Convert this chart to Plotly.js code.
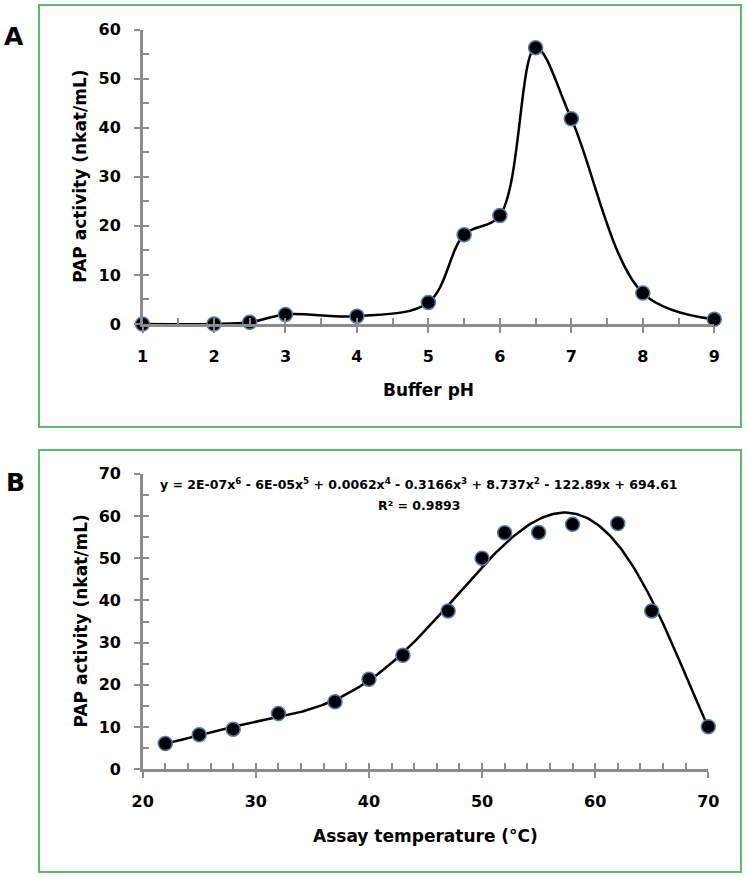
<!DOCTYPE html>
<html><head><meta charset="utf-8">
<script src="https://cdn.plot.ly/plotly-3.0.1.min.js"></script>
<style>html,body{margin:0;padding:0;background:#fff}</style>
</head><body><div id="chart" style="width:747px;height:877px"></div>
<script>
// ---- Data: panel A (pH profile) ----
const phValues = [1, 2, 2.5, 3, 4, 5, 5.5, 6, 6.5, 7, 8, 9];
const phActivity = [0, 0, 0.35, 1.95, 1.6, 4.4, 18.2, 22.1, 56.3, 41.8, 6.3, 0.95];
const xTicksA = [1, 2, 3, 4, 5, 6, 7, 8, 9];
const yTicksA = [0, 10, 20, 30, 40, 50, 60];

// ---- Data: panel B (temperature profile) ----
const tempValues = [22, 25, 28, 32, 37, 40, 43, 47, 50, 52, 55, 58, 62, 65, 70];
const tempActivity = [6.1, 8.2, 9.5, 13.2, 16.0, 21.3, 27.0, 37.5, 50.0, 56.0, 56.1, 58.0, 58.2, 37.5, 10.1];
const xTicksB = [20, 30, 40, 50, 60, 70];
const yTicksB = [0, 10, 20, 30, 40, 50, 60, 70];
const trendOrder = 6;

// ---- Texts ----
const panelLabels = ['A', 'B'];
const xTitleA = 'Buffer pH';
const xTitleB = 'Assay temperature (°C)';
const yTitle = 'PAP activity (nkat/mL)';
const equationText = 'y = 2E-07x<sup>6</sup> - 6E-05x<sup>5</sup> + 0.0062x<sup>4</sup> - 0.3166x<sup>3</sup> + 8.737x<sup>2</sup> - 122.89x + 694.61';
const r2Text = 'R² = 0.9893';

// ---- Least-squares polynomial trendline (computed from the data) ----
function polyfit(xs, ys, n) {
  const lo = Math.min(...xs), hi = Math.max(...xs);
  const mx = (lo + hi) / 2, sx = (hi - lo) / 2;
  const m = n + 1;
  const A = Array.from({length: m}, () => new Array(m + 1).fill(0));
  xs.forEach((x, k) => {
    const t = (x - mx) / sx;
    const p = [];
    for (let j = 0; j < m; j++) p.push(Math.pow(t, j));
    for (let i = 0; i < m; i++) {
      for (let j = 0; j < m; j++) A[i][j] += p[i] * p[j];
      A[i][m] += p[i] * ys[k];
    }
  });
  for (let c = 0; c < m; c++) {
    let piv = c;
    for (let r = c + 1; r < m; r++) if (Math.abs(A[r][c]) > Math.abs(A[piv][c])) piv = r;
    [A[c], A[piv]] = [A[piv], A[c]];
    for (let r = 0; r < m; r++) {
      if (r === c) continue;
      const f = A[r][c] / A[c][c];
      for (let j = c; j <= m; j++) A[r][j] -= f * A[c][j];
    }
  }
  const coef = A.map((row, i) => row[m] / row[i]);
  return x => { const t = (x - mx) / sx; let s = 0; for (let j = m - 1; j >= 0; j--) s = s * t + coef[j]; return s; };
}
const fitFn = polyfit(tempValues, tempActivity, trendOrder);
const tLo = Math.min(...tempValues), tHi = Math.max(...tempValues);
const trendX = [], trendY = [];
for (let i = 0; i <= 240; i++) { const x = tLo + (tHi - tLo) * i / 240; trendX.push(x); trendY.push(fitFn(x)); }

// ---- Styling ----
const FONT = 'DejaVu Sans, Liberation Sans, Arial, sans-serif';
const AX = '#8c8c8c';
const markerStyle = {size: 14, color: '#000000', line: {color: '#4f7db0', width: 1.5}};
const W = 747, H = 877;
const px = v => v / W, py = v => 1 - v / H;

const tickFont = {family: FONT, size: 16, color: '#000', weight: 'bold'};
function mainAxis(domain, range, tickvals, anchor) {
  return {domain, range, anchor, tickmode: 'array', tickvals, ticktext: tickvals.map(String),
    ticks: 'outside', ticklen: 6, tickwidth: 2, tickcolor: AX, showline: true, linecolor: AX, linewidth: 2.5,
    showgrid: false, zeroline: false, tickfont: tickFont, ticklabelstandoff: 10, fixedrange: true};
}
function overAxis(over, anchor, range, dtick, minorDtick) {
  return {overlaying: over, anchor, range, tickmode: 'linear', tick0: range[0], dtick,
    ticks: 'inside', ticklen: 6, tickwidth: 2, tickcolor: AX,
    minor: {ticks: 'inside', dtick: minorDtick, tick0: range[0], ticklen: 6, tickwidth: 2, tickcolor: AX},
    showticklabels: false, showline: false, showgrid: false, zeroline: false, fixedrange: true};
}

const domXA = [px(142.5), px(714.3)], domYA = [py(324), py(29.5)];
const domXB = [px(142.7), px(708.3)], domYB = [py(769.3), py(473.7)];
const rangeXA = [xTicksA[0], xTicksA[xTicksA.length - 1]], rangeYA = [yTicksA[0], yTicksA[yTicksA.length - 1]];
const rangeXB = [xTicksB[0], xTicksB[xTicksB.length - 1]], rangeYB = [yTicksB[0], yTicksB[yTicksB.length - 1]];

const traces = [
  {x: [], y: [], xaxis: 'x3', yaxis: 'y3', mode: 'markers', hoverinfo: 'skip', showlegend: false},
  {x: [], y: [], xaxis: 'x4', yaxis: 'y4', mode: 'markers', hoverinfo: 'skip', showlegend: false},
  {x: phValues, y: phActivity, xaxis: 'x', yaxis: 'y', mode: 'lines+markers', cliponaxis: false,
   line: {shape: 'spline', smoothing: 1, color: '#000', width: 2.5}, marker: markerStyle, showlegend: false},
  {x: trendX, y: trendY, xaxis: 'x2', yaxis: 'y2', mode: 'lines', cliponaxis: false,
   line: {color: '#000', width: 2.5}, showlegend: false, hoverinfo: 'skip'},
  {x: tempValues, y: tempActivity, xaxis: 'x2', yaxis: 'y2', mode: 'markers', cliponaxis: false,
   marker: markerStyle, showlegend: false}
];

const titleFont = {family: FONT, size: 17, color: '#000', weight: 'bold'};
const borderLine = {color: '#62b86e', width: 2};
const layout = {
  width: W, height: H, margin: {l: 0, r: 0, t: 0, b: 0},
  paper_bgcolor: '#fff', plot_bgcolor: 'rgba(0,0,0,0)', showlegend: false,
  xaxis: mainAxis(domXA, rangeXA, xTicksA, 'y'),
  yaxis: mainAxis(domYA, rangeYA, yTicksA, 'x'),
  xaxis2: mainAxis(domXB, rangeXB, xTicksB, 'y2'),
  yaxis2: mainAxis(domYB, rangeYB, yTicksB, 'x2'),
  xaxis3: overAxis('x', 'y3', rangeXA, 1, 0.5),
  yaxis3: overAxis('y', 'x3', rangeYA, 10, 5),
  xaxis4: overAxis('x2', 'y4', rangeXB, 10, 2),
  yaxis4: overAxis('y2', 'x4', rangeYB, 10, 5),
  shapes: [
    {type: 'rect', xref: 'paper', yref: 'paper', x0: px(39), x1: px(741), y0: py(427), y1: py(5), line: borderLine, layer: 'below'},
    {type: 'rect', xref: 'paper', yref: 'paper', x0: px(39), x1: px(741), y0: py(872), y1: py(450), line: borderLine, layer: 'below'}
  ],
  annotations: [
    {text: panelLabels[0], xref: 'paper', yref: 'paper', x: px(14.5), y: py(36), xanchor: 'center', yanchor: 'middle', showarrow: false, font: {family: FONT, size: 25, color: '#000', weight: 'bold'}},
    {text: panelLabels[1], xref: 'paper', yref: 'paper', x: px(15.5), y: py(482), xanchor: 'center', yanchor: 'middle', showarrow: false, font: {family: FONT, size: 25, color: '#000', weight: 'bold'}},
    {text: xTitleA, xref: 'x domain', yref: 'paper', x: 0.5, y: py(390), xanchor: 'center', yanchor: 'middle', showarrow: false, font: titleFont},
    {text: xTitleB, xref: 'x2 domain', yref: 'paper', x: 0.5, y: py(836), xanchor: 'center', yanchor: 'middle', showarrow: false, font: titleFont},
    {text: yTitle, xref: 'paper', yref: 'y domain', x: px(80), y: 0.5, xanchor: 'center', yanchor: 'middle', textangle: -90, showarrow: false, font: titleFont},
    {text: yTitle, xref: 'paper', yref: 'y2 domain', x: px(80), y: 0.5, xanchor: 'center', yanchor: 'middle', textangle: -90, showarrow: false, font: titleFont},
    {text: equationText, xref: 'paper', yref: 'paper', x: px(419), y: py(484), xanchor: 'center', yanchor: 'middle', showarrow: false, font: {family: FONT, size: 12.5, color: '#000', weight: 'bold'}},
    {text: r2Text, xref: 'paper', yref: 'paper', x: px(419), y: py(505), xanchor: 'center', yanchor: 'middle', showarrow: false, font: {family: FONT, size: 12.5, color: '#000', weight: 'bold'}}
  ]
};

Plotly.newPlot('chart', traces, layout, {displayModeBar: false, staticPlot: true});
</script></body></html>
